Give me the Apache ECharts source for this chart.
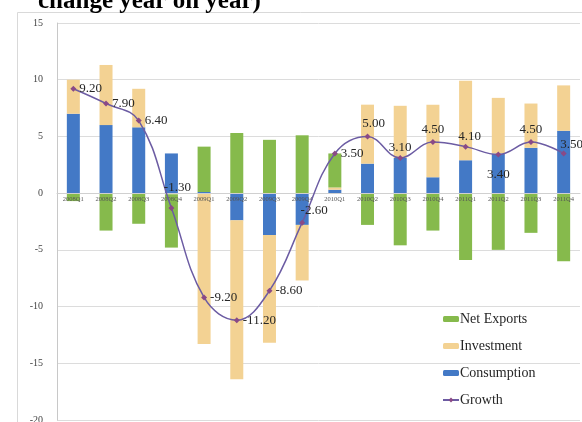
<!DOCTYPE html>
<html>
<head>
<meta charset="utf-8">
<style>html,body{margin:0;padding:0;background:#fff;}#c{width:582px;height:422px;}</style>
<script src="https://cdn.jsdelivr.net/npm/echarts@6/dist/echarts.min.js"></script>
</head>
<body>
<div id="c"></div>
<script>
var categories = ['2008Q1','2008Q2','2008Q3','2008Q4','2009Q1','2009Q2','2009Q3','2009Q4','2010Q1','2010Q2','2010Q3','2010Q4','2011Q1','2011Q2','2011Q3','2011Q4'];
var consumption = [7.0, 6.0, 5.8, 3.5, 0.1, -2.4, -3.7, -2.8, 0.3, 2.6, 3.1, 1.4, 2.9, 3.5, 4.0, 5.5];
var investment = [3.0, 5.3, 3.4, -0.1, -13.3, -14.0, -9.5, -4.9, 0.2, 5.2, 4.6, 6.4, 7.0, 4.9, 3.9, 4.0];
var netExports = [-0.7, -3.3, -2.7, -4.7, 4.0, 5.3, 4.7, 5.1, 3.0, -2.8, -4.6, -3.3, -5.9, -5.0, -3.5, -6.0];
var growth = [9.2, 7.9, 6.4, -1.3, -9.2, -11.2, -8.6, -2.6, 3.5, 5.0, 3.1, 4.5, 4.1, 3.4, 4.5, 3.5];
var yTicks = [-20, -15, -10, -5, 0, 5, 10, 15];

var labelPos = ['right','right','right','top','right','right','right','top','right','top','top','top','top','bottom','top','top'];
var labelOff = [[0,0],[0,0],[0,0],[6,-8],[0,0],[0,0],[0,0],[12,0],[0,0],[6,0],[0,2],[0,0],[4,2],[0,8],[0,0],[8,4]];

var serif = 'Liberation Serif';
var chart = echarts.init(document.getElementById('c'));
var growthData = growth.map(function (v, i) {
  return { value: v, label: { position: labelPos[i], offset: labelOff[i] } };
});
var gridTop = 23, gridBottom = 2, H = 422;
var plotH = H - gridTop - gridBottom;
var zeroOffset = -(plotH * (0 - yTicks[0]) / (yTicks[yTicks.length - 1] - yTicks[0]));
chart.setOption({
  animation: false,
  backgroundColor: '#fff',
  graphic: [
    { type: 'rect', shape: { x: 17.5, y: 12.5, width: 620, height: 450 }, style: { fill: 'none', stroke: '#d9d9d9', lineWidth: 1 }, z: -1 },
    { type: 'text', x: 38, y: 14, style: { text: 'change year on year)', font: 'bold 25px "Liberation Serif"', fill: '#000', verticalAlign: 'bottom' } }
  ],
  grid: { left: 57, right: 2, top: gridTop, bottom: gridBottom, containLabel: false, outerBoundsMode: 'none' },
  legend: {
    data: ['Net Exports', 'Investment', 'Consumption', 'Growth'],
    orient: 'vertical',
    left: 437, top: 307,
    itemWidth: 16, itemHeight: 6, itemGap: 13,
    textStyle: { fontFamily: serif, fontSize: 14, color: '#262626', padding: [0,0,0,-4] }
  },
  xAxis: {
    type: 'category',
    data: categories,
    offset: zeroOffset,
    z: 4,
    axisLine: { onZero: false, lineStyle: { color: '#d0d0d0' } },
    axisTick: { show: false },
    axisLabel: { fontSize: 6.5, color: '#555', margin: 3, interval: 0, fontFamily: serif }
  },
  yAxis: {
    type: 'value',
    min: yTicks[0], max: yTicks[yTicks.length - 1], interval: 5,
    axisLine: { show: true, lineStyle: { color: '#c8c8c8' } },
    axisTick: { show: false },
    splitLine: { lineStyle: { color: '#dcdcdc' } },
    axisLabel: { fontFamily: serif, fontSize: 10, color: '#444', margin: 14 }
  },
  series: [
    { name: 'Consumption', type: 'bar', stack: 'g', data: consumption, barWidth: 13, itemStyle: { color: '#4379c6' } },
    { name: 'Investment', type: 'bar', stack: 'g', data: investment, barWidth: 13, itemStyle: { color: '#f3d293' } },
    { name: 'Net Exports', type: 'bar', stack: 'g', data: netExports, barWidth: 13, itemStyle: { color: '#86ba4c' } },
    {
      name: 'Growth', type: 'line', data: growthData, smooth: 0.4,
      symbol: 'diamond', symbolSize: 6, z: 5,
      lineStyle: { color: '#6c5ca3', width: 1.5 },
      itemStyle: { color: '#8a4a86' },
      label: {
        show: true, fontFamily: serif, fontSize: 13, color: '#262626', distance: 3,
        formatter: function (p) { return p.value.toFixed(2); }
      }
    }
  ]
});
</script>
</body>
</html>
